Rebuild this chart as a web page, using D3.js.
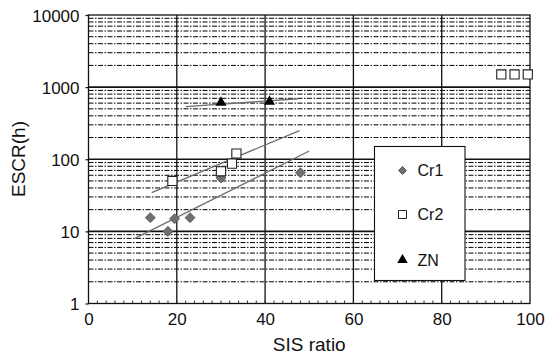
<!DOCTYPE html>
<html>
<head>
<meta charset="utf-8">
<script src="https://cdn.jsdelivr.net/npm/d3@7"></script>
<style>
  html, body { margin: 0; padding: 0; background: #fff; }
  svg { display: block; font-family: "Liberation Sans", Arial, Helvetica, sans-serif; }
</style>
</head>
<body>
<svg id="chart" width="546" height="361"></svg>
<script>
// Environmental stress-crack resistance vs. SIS ratio
const cr1X = [14, 18, 19.5, 23, 30, 48];
const cr1Y = [15.5, 10, 15, 15.5, 55, 65];
const cr2X = [19, 30, 32.5, 33.5, 93.5, 96.5, 99.5];
const cr2Y = [50, 68, 87, 120, 1500, 1500, 1500];
const znX = [30, 41];
const znY = [610, 630];

// fitted trend lines (start / end points)
const cr1FitX = [10.5, 50];
const cr1FitY = [8, 130];
const cr2FitX = [14.3, 47.8];
const cr2FitY = [34.5, 250];
const znFitX = [22, 47.5];
const znFitY = [535, 690];

const xTicks = [0, 20, 40, 60, 80, 100];
const yTicks = [1, 10, 100, 1000, 10000];
const legendNames = ["Cr1", "Cr2", "ZN"];

const svg = d3.select("#chart");
const L = 88.5, R = 530, T = 15, B = 303.5;

const x = d3.scaleLinear().domain([0, 100]).range([L, R]);
const y = d3.scaleLog().domain([1, 10000]).range([B, T]);

const g = svg.append("g");

// minor horizontal grid (2..9 within each decade)
const minorY = [];
for (let d = 1; d < 10000; d *= 10) for (let k = 2; k <= 9; k++) minorY.push(d * k);
g.selectAll("line.minor").data(minorY).join("line")
  .attr("x1", L).attr("x2", R)
  .attr("y1", d => y(d)).attr("y2", d => y(d))
  .attr("stroke", "#000").attr("stroke-width", 1)
  .attr("stroke-dasharray", "5,1.5,1.5,1.5");

// major horizontal grid at decades
g.selectAll("line.major").data([10, 100, 1000]).join("line")
  .attr("x1", L).attr("x2", R)
  .attr("y1", d => y(d)).attr("y2", d => y(d))
  .attr("stroke", "#111").attr("stroke-width", 1.6);

// vertical grid
g.selectAll("line.vgrid").data([20, 40, 60, 80]).join("line")
  .attr("x1", d => x(d)).attr("x2", d => x(d))
  .attr("y1", T).attr("y2", B)
  .attr("stroke", "#111").attr("stroke-width", 1.3);

// inner minor ticks along the x axis
g.selectAll("line.xminor").data(d3.range(2, 100, 2)).join("line")
  .attr("x1", d => x(d)).attr("x2", d => x(d))
  .attr("y1", B).attr("y2", B - 3)
  .attr("stroke", "#222").attr("stroke-width", 0.9);

// plot frame
g.append("rect").attr("x", L).attr("y", T).attr("width", R - L).attr("height", B - T)
  .attr("fill", "none").attr("stroke", "#111").attr("stroke-width", 1.3);

// axes with labels
const xAxis = d3.axisBottom(x).tickValues(xTicks).tickSize(0).tickPadding(9).tickFormat(d3.format("d"));
const yAxis = d3.axisLeft(y).tickValues(yTicks).tickSize(3).tickPadding(6).tickFormat(d3.format("d"));

const gx = svg.append("g").attr("transform", `translate(0,${B})`).call(xAxis);
const gy = svg.append("g").attr("transform", `translate(${L},0)`).call(yAxis);
[gx, gy].forEach(a => {
  a.select(".domain").remove();
  a.selectAll("text").attr("font-size", 17).attr("fill", "#111")
    .attr("font-family", "Liberation Sans, Arial, sans-serif");
  a.selectAll("line").attr("stroke", "#111").attr("stroke-width", 1.2);
});
gx.selectAll("text").attr("dy", "0.71em");
gy.selectAll("text").attr("dy", "0.38em");

svg.append("text").attr("x", (L + R) / 2).attr("y", 350.5)
  .attr("text-anchor", "middle").attr("font-size", 19).attr("fill", "#111")
  .text("SIS ratio");
svg.append("text").attr("transform", "translate(25,159) rotate(-90)")
  .attr("text-anchor", "middle").attr("font-size", 19).attr("fill", "#111")
  .text("ESCR(h)");

// trend lines
const line = d3.line().x(d => x(d[0])).y(d => y(d[1]));
[[cr1FitX, cr1FitY], [cr2FitX, cr2FitY], [znFitX, znFitY]].forEach(([xs, ys]) => {
  g.append("path").datum(d3.zip(xs, ys)).attr("d", line)
    .attr("fill", "none").attr("stroke", "#6e6e6e").attr("stroke-width", 1.3);
});

// markers
const diamond = d3.symbol().type(d3.symbolDiamond2).size(64);
const square = d3.symbol().type(d3.symbolSquare).size(84);
const triangle = d3.symbol().type(d3.symbolTriangle).size(52);

g.selectAll("path.cr1").data(d3.zip(cr1X, cr1Y)).join("path")
  .attr("transform", d => `translate(${x(d[0])},${y(d[1])})`)
  .attr("d", diamond).attr("fill", "#6f6f6f").attr("stroke", "#555").attr("stroke-width", 0.8);

g.selectAll("path.cr2").data(d3.zip(cr2X, cr2Y)).join("path")
  .attr("transform", d => `translate(${x(d[0])},${y(d[1])})`)
  .attr("d", square).attr("fill", "#fff").attr("stroke", "#222").attr("stroke-width", 1.1);

g.selectAll("path.zn").data(d3.zip(znX, znY)).join("path")
  .attr("transform", d => `translate(${x(d[0])},${y(d[1])})`)
  .attr("d", triangle).attr("fill", "#000");

// legend
const lg = svg.append("g");
lg.append("rect").attr("x", 374.5).attr("y", 146.5).attr("width", 90.5).attr("height", 134)
  .attr("fill", "#fff").attr("stroke", "#111").attr("stroke-width", 1.1);
const legendSymbols = [
  { sym: d3.symbol().type(d3.symbolDiamond2).size(40), fill: "#6f6f6f", stroke: "#555" },
  { sym: d3.symbol().type(d3.symbolSquare).size(64), fill: "#fff", stroke: "#222" },
  { sym: d3.symbol().type(d3.symbolTriangle).size(48), fill: "#000", stroke: "none" }
];
const legendY = [170.5, 214.5, 260];
legendNames.forEach((name, i) => {
  lg.append("path").attr("transform", `translate(402.5,${legendY[i]})`)
    .attr("d", legendSymbols[i].sym).attr("fill", legendSymbols[i].fill)
    .attr("stroke", legendSymbols[i].stroke).attr("stroke-width", 1);
  lg.append("text").attr("x", 417.5).attr("y", legendY[i]).attr("dy", "0.36em")
    .attr("font-size", 16).attr("fill", "#111").text(name);
});
</script>
</body>
</html>
